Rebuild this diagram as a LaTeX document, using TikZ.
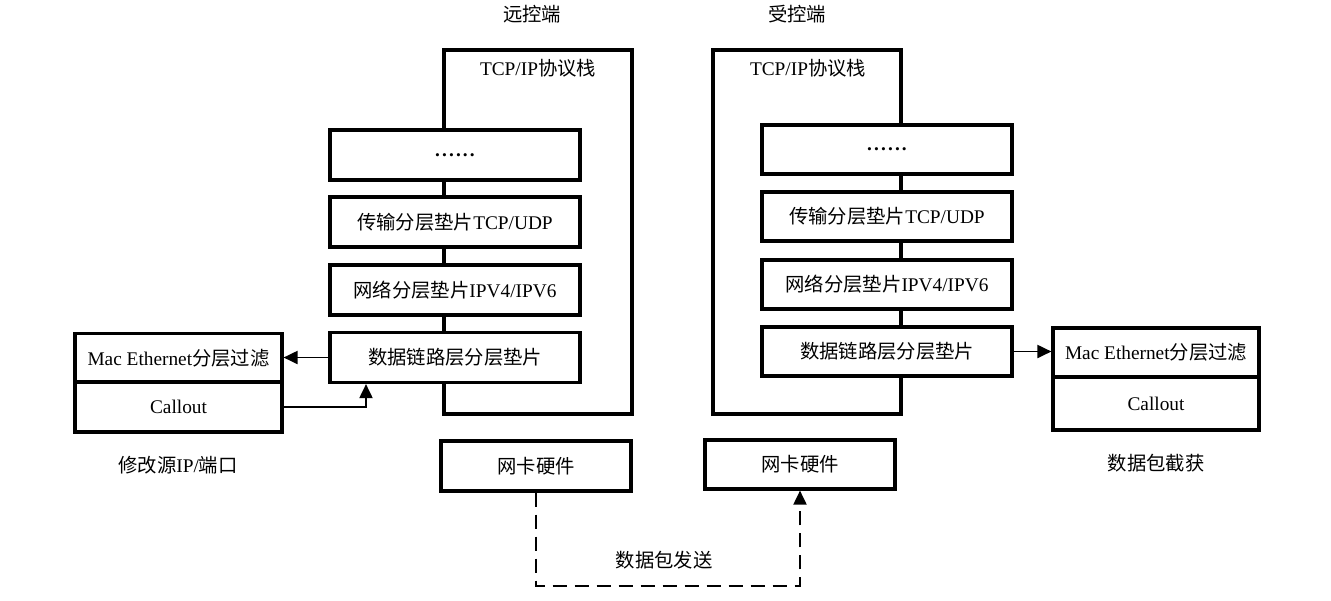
\documentclass[tikz,border=0pt]{standalone}
\usepackage{fontspec}
\setmainfont{Liberation Serif}
\newfontfamily\cjk{Noto Sans CJK SC}
\usetikzlibrary{arrows.meta}
\begin{document}
\begin{tikzpicture}[
    font=\fontsize{11}{13}\selectfont,
    layer/.style={draw, line width=1.8pt, fill=white, minimum width=5cm, minimum height=1cm, inner sep=0pt},
    filterbox/.style={draw, line width=1.8pt, fill=white, minimum width=4.14cm, minimum height=0.98cm, inner sep=0pt},
    nicbox/.style={draw, line width=1.8pt, fill=white, minimum width=3.8cm, minimum height=1cm, inner sep=0pt},
    stackbox/.style={draw, line width=1.8pt, minimum width=3.76cm, minimum height=7.28cm, inner sep=0pt},
    conn/.style={line width=1.1pt, -{Triangle[length=0.28cm, width=0.26cm]}}
]
    \useasboundingbox (0,0) rectangle (26.62,-12);

    % remote side
    \node[stackbox] (stackL) at (10.76,-4.64) {};
    \node (titleL) at (10.64,-0.28) {\cjk 远控端};
    \node (tcpL) at (10.76,-1.36) {TCP/IP{\cjk 协议栈}};
    \node[layer] (dotsL) at (9.10,-3.10) {\textbf{.\kern1.2pt.\kern1.2pt.\kern1.2pt.\kern1.2pt.\kern1.2pt.}};
    \node[layer] (transL) at (9.10,-4.44) {{\cjk 传输分层垫片}TCP/UDP};
    \node[layer] (netL) at (9.10,-5.80) {{\cjk 网络分层垫片}IPV4/IPV6};
    \node[layer] (linkL) at (9.10,-7.15) {\cjk 数据链路层分层垫片};
    \node[filterbox] (macL) at (3.57,-7.16) {Mac Ethernet{\cjk 分层过滤}};
    \node[filterbox, minimum height=1cm] (callL) at (3.57,-8.14) {Callout};
    \node (noteL) at (3.56,-9.30) {{\cjk 修改源}IP/{\cjk 端口}};
    \node[nicbox] (nicL) at (10.72,-9.32) {\cjk 网卡硬件};

    % controlled side
    \node[stackbox] (stackR) at (16.14,-4.64) {};
    \node (titleR) at (15.94,-0.28) {\cjk 受控端};
    \node (tcpR) at (16.16,-1.36) {TCP/IP{\cjk 协议栈}};
    \node[layer, minimum height=0.98cm] (dotsR) at (17.74,-2.99) {\textbf{.\kern1.2pt.\kern1.2pt.\kern1.2pt.\kern1.2pt.\kern1.2pt.}};
    \node[layer, minimum height=0.98cm] (transR) at (17.74,-4.33) {{\cjk 传输分层垫片}TCP/UDP};
    \node[layer, minimum height=0.98cm] (netR) at (17.74,-5.69) {{\cjk 网络分层垫片}IPV4/IPV6};
    \node[layer, minimum height=0.98cm] (linkR) at (17.74,-7.03) {\cjk 数据链路层分层垫片};
    \node[filterbox, minimum width=4.12cm] (macR) at (23.12,-7.05) {Mac Ethernet{\cjk 分层过滤}};
    \node[filterbox, minimum width=4.12cm, minimum height=1.06cm] (callR) at (23.12,-8.07) {Callout};
    \node (noteR) at (23.12,-9.26) {\cjk 数据包截获};
    \node[nicbox, minimum height=0.98cm] (nicR) at (16.00,-9.29) {\cjk 网卡硬件};

    % connectors
    \draw[conn] (linkL.west) -- (linkL.west -| macL.east);
    \draw[conn] (callL.east) -| ([xshift=-1.78cm]linkL.south);
    \draw[conn] (linkR.east) -- (linkR.east -| macR.west);

    \coordinate (sendL) at (10.72,-11.72);
    \coordinate (sendR) at (16.00,-11.72);
    \draw[conn, dash pattern=on 0.28cm off 0.16cm] (nicL.south) -- (sendL) -- (sendR) -- (nicR.south);
    \node (sendlabel) at (13.28,-11.20) {\cjk 数据包发送};
\end{tikzpicture}
\end{document}
